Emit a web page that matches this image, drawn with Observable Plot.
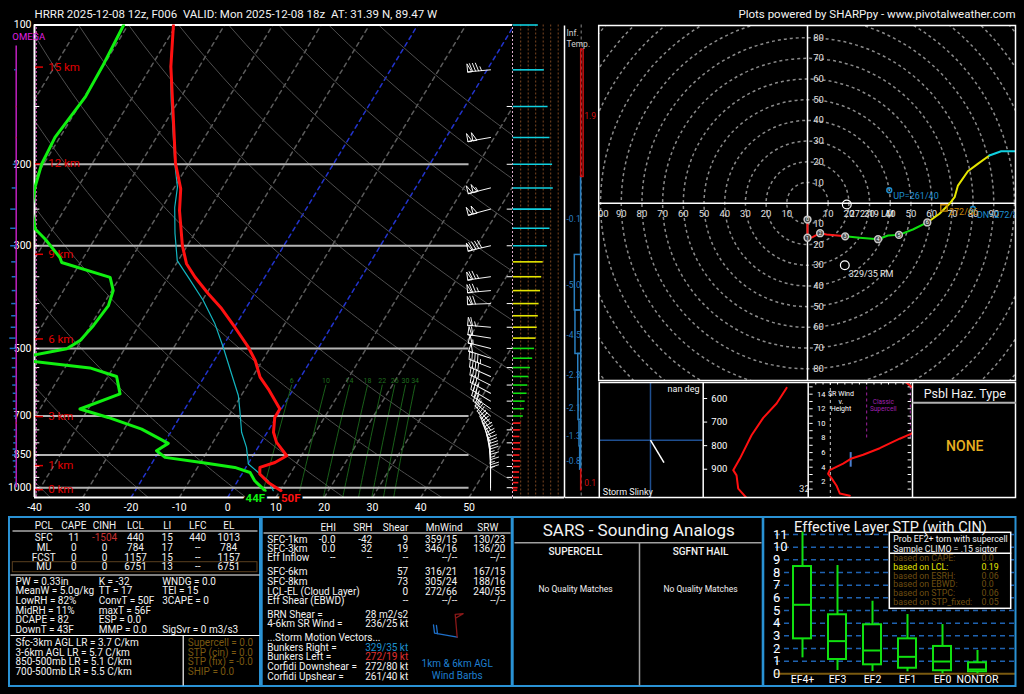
<!DOCTYPE html>
<html><head><meta charset="utf-8">
<script src="https://cdn.jsdelivr.net/npm/d3@7"></script>
<script src="https://cdn.jsdelivr.net/npm/@observablehq/plot@0.6"></script>
<style>
html,body{margin:0;padding:0;background:#000;}
#root{position:relative;width:1024px;height:694px;overflow:hidden;background:#000;}
.layer{position:absolute;overflow:hidden;}
.layer svg{display:block;max-width:none;}
</style></head><body><div id="root"></div>
<script>
// ================= DATA =================
const titleLeft = "HRRR 2025-12-08 12z, F006  VALID: Mon 2025-12-08 18z  AT: 31.39 N, 89.47 W";
const titleRight = "Plots powered by SHARPpy - www.pivotalweather.com";

// Temperature profile (hPa, °C)
const tempP = [1015,974,934,904,882,853,798,759,705,676,612,577,531,497,450,410,381,351,328,300,252,226,199,123,100];
const tempC = [10.2,6.5,3.7,2.9,5.4,7.0,3.2,1.3,-0.3,-0.3,-5.2,-8.4,-11.5,-14.6,-19.9,-25.0,-29.6,-34.4,-37.9,-41.0,-46.0,-48.5,-52.8,-65.9,-70.6];
// Dewpoint profile
const dwptP = [1015,966,927,904,882,860,832,802,747,705,676,627,575,551,527,501,481,446,404,375,351,326,318,290,276,250,224,200,175,143,123,100];
const dwptC = [6.9,3.5,1.5,-2.3,-9.8,-18.0,-20.6,-19.1,-26.4,-34.8,-41.7,-35.3,-38.2,-44.8,-61.8,-52.0,-50.3,-49.4,-48.8,-49.7,-52.0,-63.9,-64.9,-70.3,-73.6,-76.8,-78.9,-80.4,-81.0,-79.8,-80.1,-80.9];
// Wet-bulb profile
const wetbP = [1015,966,927,889,818,759,681,632,568,497,443,394,351,323,282,248,224,200,180,146,123,100];
const wetbC = [8.6,6.3,3.2,0.1,-2.4,-5.3,-8.4,-10.6,-14.7,-19.8,-24.4,-29.8,-35.8,-40.2,-44.1,-47.4,-49.4,-52.8,-55.7,-61.5,-66.0,-70.6];
// Winds (hPa, deg, kt)
const windP   = [1013,1000,975,950,925,900,875,850,825,800,775,750,725,700,675,650,625,600,575,550,525,500,475,450,425,400,375,350,325,300,275,250,225,200,175,150,125,100];
const windDir = [360,360,360,360,359,358,355,350,345,338,332,325,318,311,305,301,298,296,294,291,288,284,279,275,271,268,265,262,259,257,256,255,256,258,260,262,265,268];
const windSpd = [12,13,15,17,17,19,20,18,20,20,18,19,21,27,30,32,37,39,42,46,52,57,61,64,67,69,73,76,80,91,98,102,107,105,98,93,83,67];
const barbLevels = [125,175,225,250,300,350,375,400,450,475,500,525,550,575,600,625,650,675,700,725,750,775,800,825,850,875,900,925,950,975,1000,1013];
// Omega (scaled)
const omegaP = [125,150,175,200,225,250,275,300,325,350,375,400,425,450,475,500,525,550,575,600,625,650,675,700,725,750,775,800,825,850,875,900,925,950,975];
const omegaV = [-1.5,0.8,0.8,-3,-4,-5.5,-5.5,-5.5,-4.5,-4,-4,-4.5,-4.5,-5,-6.5,-6,-4,-4,-3.5,-3.5,-3,-3,-2.5,-2,1,-2,-2,-2.5,-3,-3.5,-3,-2,-2.5,-1.5,-1];
// Height markers
const kmVals = [0,1,3,6,9,12,15];
const kmP = [1010,896,702,477,313,199.5,123.3];
const presLabels = [100,200,300,500,700,850,1000];
const tempTicks = [-40,-30,-20,-10,0,10,20,30,40,50];
const mixW = [6,10,14,18,22,26,30,34];
// Inferred temperature advection (C/hr) per layer
const advBot = [1013,914,814,714,614,514,414,314,213];
const advTop = [914,814,714,614,514,414,314,213,113];
const advVal = [0.1,-0.8,-1.3,-2.1,-2.3,-4.5,-5.0,-0.1,1.9];
// Hodograph trace (kt), band 0:0-3km 1:3-6 2:6-9 3:9-12
const hodoU = [0,0,2.4,6.1,9.2,18.2, 18.2,25.2,34.1,38.9,44.2,50.9,57.9, 57.9,63.8,68.6,71.1,72.7,77.5,82.3,87.9, 87.9,93.6,100.8,107.2];
const hodoV = [-7.9,-16.7,-16.4,-14.5,-15.1,-16.0, -16.0,-16.7,-17.4,-15.6,-15.3,-12.7,-9.3, -9.3,-5.1,-0.3,2.9,8.5,15.4,19.0,23.0, 23.0,25.1,25.1,25.1];
const hodoBand = [0,0,0,0,0,0, 1,1,1,1,1,1,1, 2,2,2,2,2,2,2,2, 3,3,3,3];
const hodoKmU = [0,0,6.1,18.2,34.1,44.2,57.9];
const hodoKmV = [-7.9,-16.7,-14.5,-16.0,-17.4,-15.3,-9.3];
const hodoKmLbl = ["0","1","2","3","4","5","6"];
// Storm motions (deg, kt)
const bunkersRight = [329,35];
const bunkersLeft = [272,19];
const corfidiDown = [272,80];
const corfidiUp = [261,40];
const meanWindCloud = [272,66];
// Theta-e profile (hPa, K)
const thetaeP = [555,621,682,756,855,904,926,982,1022];
const thetaeK = [312.6,309.0,304.2,300.0,295.8,293.4,294.6,295.2,298.2];
// SR wind vs height (km, kt)
const srwKm = [0.1,0.4,1.5,2.5,3.1,3.6,4.5,5.2,5.7,6.6,7.9,8.6,10,12,14.8,15.8];
const srwKt = [28.4,21.5,19.2,15.8,13.5,14.6,23.8,29.6,37.6,49.0,62.7,70.8,80,85,72,66];
const srw46 = 29;
// STP box plot
const stpCats = ["EF4+","EF3","EF2","EF1","EF0","NONTOR"];
const stpLo  = [1.26,0.26,0.18,0.16,0.0,0.0];
const stpQ1  = [2.76,1.13,0.71,0.44,0.24,0.16];
const stpMed = [5.45,2.58,1.84,1.34,0.97,0.34];
const stpQ3  = [8.47,4.66,3.87,2.76,2.16,0.87];
const stpHi  = [11.2,8.55,5.73,4.68,3.89,1.84];
const stpProbLbl = ["based on CAPE:","based on LCL:","based on ESRH:","based on EBWD:","based on STPC:","based on STP_fixed:"];
const stpProbVal = ["0.0","0.19","0.06","0.0","0.06","0.05"];
// Parcel table
const pclHead = ["PCL","CAPE","CINH","LCL","LI","LFC","EL"];
const pclName = ["SFC","ML","FCST","MU"];
const pclCape = [11,0,0,0];
const pclCinh = [-1504,0,0,0];
const pclLcl  = [440,784,1157,6751];
const pclLi   = [15,17,15,13];
const pclLfc  = ["440","--","--","--"];
const pclEl   = [1013,784,1157,6751];
const idxCol1 = ["PW = 0.33in","MeanW = 5.0g/kg","LowRH = 82%","MidRH = 11%","DCAPE = 82","DownT = 43F"];
const idxCol2 = ["K = -32","TT = 17","ConvT = 50F","maxT = 56F","ESP = 0.0","MMP = 0.0"];
const idxCol3 = ["WNDG = 0.0","TEI = 15","3CAPE = 0","","","SigSvr = 0 m3/s3"];
const lapseTxt = ["Sfc-3km AGL LR = 3.7 C/km","3-6km AGL LR = 5.7 C/km","850-500mb LR = 5.1 C/km","700-500mb LR = 5.5 C/km"];
const svrTxt = ["Supercell = 0.0","STP (cin) = 0.0","STP (fix) = -0.0","SHIP = 0.0"];
// Kinematic table
const kinHead = ["EHI","SRH","Shear","MnWind","SRW"];
const kinLabel = ["SFC-1km","SFC-3km","Eff Inflow","SFC-6km","SFC-8km","LCL-EL (Cloud Layer)","Eff Shear (EBWD)"];
const kinEhi = ["-0.0","0.0","--","","","",""];
const kinSrh = ["-42","32","--","","","",""];
const kinShear = ["9","19","--","57","73","0","--"];
const kinMn = ["359/15","346/16","--/--","316/21","305/24","272/66","--/--"];
const kinSrw = ["130/23","136/20","--/--","167/15","188/16","240/55","--/--"];
const brnShear = "28 m2/s2";
const srWind46 = "236/25 kt";
const miniBarbDir = [280,355];
const miniBarbSpd = [20,50];

// ================= HELPERS =================
const root = document.getElementById("root");
function place(svg, left, top, w, h) {
  const d = document.createElement("div");
  d.className = "layer";
  Object.assign(d.style, {left: left + "px", top: top + "px", width: w + "px", height: h + "px"});
  d.appendChild(svg); root.appendChild(d);
}
const FONT = "Roboto, 'Liberation Sans', sans-serif";
const baseStyle = {background: "transparent", color: "white", fontFamily: FONT, overflow: "visible"};
const SKEW = 25.25;
const skx = (t, p) => t + SKEW * Math.log(1050 / p);
const toRows = (P, V) => P.map((p, i) => ({p, t: V[i]}));
const uvOf = ([dir, spd]) => ({u: -spd * Math.sin(dir * Math.PI / 180), v: -spd * Math.cos(dir * Math.PI / 180), dir, spd});
const barb = {
  draw(ctx, l) {
    const L = 23, W = 8;
    ctx.moveTo(0, 0); ctx.lineTo(0, -L);
    let s = Math.round(l / 5) * 5, y = -L;
    while (s >= 50) { ctx.moveTo(0, y); ctx.lineTo(W, y); ctx.lineTo(0, y + 4); ctx.closePath(); y += 5; s -= 50; }
    while (s >= 10) { ctx.moveTo(0, y); ctx.lineTo(W, y - 2.5); y += 3; s -= 10; }
    if (s >= 5) { if (y === -L) y += 3; ctx.moveTo(0, y); ctx.lineTo(W / 2, y - 1.25); }
  }
};
function textMarks(rows) {
  const groups = d3.groups(rows, d => [d.fill, d.fs, d.a, d.fw].join("|"));
  return groups.map(([k, g]) => {
    const [fill, fs, a, fw] = k.split("|");
    return Plot.text(g, {x: "x", y: "y", text: "t", fill, fontSize: +fs, textAnchor: a, fontWeight: fw});
  });
}

// ================= SKEW-T =================
const tRows = toRows(tempP, tempC), dRows = toRows(dwptP, dwptC), wRows = toRows(wetbP, wetbC);
const isoRows = d3.range(-160, 60, 10).flatMap(t => [{t, p: 1050}, {t, p: 100}]);
const pGrid = d3.range(1050, 95, -10);
const adiaRows = d3.range(-40, 220, 20).flatMap(th => pGrid.map(p => ({th, p, t: (th + 273.15) * Math.pow(p / 1000, 0.2857) - 273.15})));
const dewFromW = (w, p) => { const e = w * p / (622 + w); const l = Math.log(e / 6.112); return 243.5 * l / (17.67 - l); };
const mixRows = mixW.flatMap(w => d3.range(1050, 595, -25).map(p => ({w, p, t: dewFromW(w, p)})));
const barbRows = barbLevels.map(p => { const i = windP.indexOf(p); return {p, dir: windDir[i], spd: windSpd[i]}; });
const kmRows = kmVals.map((k, i) => ({k, p: kmP[i]}));
const omRows = omegaP.map((p, i) => ({p, v: omegaV[i]}));
const OMEGA_X = -43.79, PXC = 4.828, BARB_X = 54.45;
const sfcT = tempC[0], sfcTd = dwptC[0], sfcP = tempP[0];
const cToF = c => Math.round(c * 9 / 5 + 32);

const skew = Plot.plot({
  width: 520, height: 516, marginLeft: 34, marginRight: 8, marginTop: 24.5, marginBottom: 19,
  x: {domain: [-40, 59], axis: null},
  y: {type: "log", domain: [1050, 100], axis: null},
  length: {type: "identity"},
  style: baseStyle,
  marks: [
    Plot.line(isoRows.filter(d => d.t !== 0 && d.t !== -20), {x: d => skx(d.t, d.p), y: "p", z: "t", stroke: "#5c5c5c", strokeDasharray: "4,4", clip: true}),
    Plot.line(isoRows.filter(d => d.t === 0 || d.t === -20), {x: d => skx(d.t, d.p), y: "p", z: "t", stroke: "#2233cc", strokeDasharray: "4,4", clip: true}),
    Plot.line(adiaRows, {x: d => skx(d.t, d.p), y: "p", z: "th", stroke: "#4e4e4e", strokeWidth: 1, clip: true}),
    Plot.line(mixRows, {x: d => skx(d.t, d.p), y: "p", z: "w", stroke: "#1c6a1c", strokeWidth: 0.9, clip: true}),
    Plot.text(mixW, {x: w => skx(dewFromW(w, 600), 600), y: 588, text: w => String(w), fill: "#1f6e1f", fontSize: 7}),
    Plot.ruleY([1000, 850, 700, 500, 300, 200], {x1: -40, x2: 50, stroke: "#b4b4b4", strokeWidth: 2}),
    Plot.ruleY(d3.range(150, 1050, 50), {x1: -40, x2: -38.9, stroke: "white"}),
    Plot.ruleY(d3.range(150, 1050, 50), {x1: 57.9, x2: 59, stroke: "white"}),
    Plot.ruleX([-40], {y1: 1050, y2: 100, stroke: "white", strokeWidth: 2}),
    Plot.ruleX([-39.65], {y1: 1050, y2: 100, stroke: "#ff66dd", strokeDasharray: "2,2"}),
    Plot.ruleX([59], {y1: 1050, y2: 100, stroke: "#e0b0d0", strokeDasharray: "2,2"}),
    Plot.ruleY([100, 1050], {x1: -40, x2: 59, stroke: "white", strokeWidth: 2}),
    Plot.text(presLabels, {x: -40, y: d => d, dx: -3, text: d => String(d), textAnchor: "end", fill: "white", fontSize: 10.5}),
    Plot.ruleX([OMEGA_X], {y1: 1000, y2: 111, stroke: "#c020c0", strokeWidth: 1.5}),
    Plot.ruleY(omRows.filter(d => d.v < 0), {y: "p", x1: OMEGA_X, x2: d => OMEGA_X + d.v / PXC, stroke: "#1f6fc8", strokeWidth: 1.5}),
    Plot.ruleY(omRows.filter(d => d.v >= 0), {y: "p", x1: OMEGA_X, x2: d => OMEGA_X + d.v / PXC, stroke: "#d02020", strokeWidth: 1.5}),
    Plot.text(["OMEGA"], {x: -41.18, y: 106, text: d => d, fill: "#e020e0", fontSize: 9.5}),
    Plot.ruleY(kmRows, {y: "p", x1: -39.79, x2: -38.14, stroke: "#e00000", strokeWidth: 1.5}),
    Plot.text(kmRows, {x: -37.16, y: "p", text: d => `${d.k} km`, textAnchor: "start", fill: "#e00000", fontSize: 11.5}),
    Plot.line(wRows, {x: d => skx(d.t, d.p), y: "p", stroke: "#13b5c0", strokeWidth: 1.2, clip: true}),
    Plot.line(tRows, {x: d => skx(d.t, d.p), y: "p", stroke: "#ff1010", strokeWidth: 3, clip: true}),
    Plot.line(dRows, {x: d => skx(d.t, d.p), y: "p", stroke: "#10f010", strokeWidth: 3, clip: true}),
    Plot.vector(barbRows, {x: BARB_X, y: "p", length: "spd", rotate: "dir", anchor: "start", shape: barb, stroke: "white", strokeWidth: 0.9}),
    Plot.text(tempTicks, {x: d => d, y: 1050, dy: 10, text: d => String(d), fill: "white", fontSize: 10.5}),
    Plot.text([sfcTd], {x: d => skx(d, sfcP), y: 1050, dy: 1, text: d => cToF(d) + "F", textAnchor: "end", fill: "#10f010", fontSize: 11.5, fontWeight: "bold", stroke: "black", strokeWidth: 5, paintOrder: "stroke"}),
    Plot.text([sfcT], {x: d => skx(d, sfcP), y: 1050, dy: 1, text: d => cToF(d) + "F", textAnchor: "start", fill: "#ff1010", fontSize: 11.5, fontWeight: "bold", stroke: "black", strokeWidth: 5, paintOrder: "stroke"})
  ]
});
place(skew, 0, 0, 520, 516);

// ================= WIND SPEED BARS =================
const bandOf = p => p >= kmP[2] ? 0 : p >= kmP[3] ? 1 : p >= kmP[4] ? 2 : 3;
const bandColors = ["#ff1a1a", "#10e010", "#e6e600", "#10d0e0"];
const wsRows = windP.map((p, i) => ({p, s: windSpd[i], b: bandOf(p)}));
const bars = Plot.plot({
  width: 52, height: 510, marginLeft: 0.7, marginRight: 0, marginTop: 24.5, marginBottom: 13,
  x: {domain: [0, 136.8], axis: null},
  y: {type: "log", domain: [1050, 100], axis: null},
  style: baseStyle,
  marks: [
    Plot.ruleX([20, 40, 60, 80, 100, 120], {stroke: "#7a4620", strokeDasharray: "2,2"}),
    ...bandColors.map((c, b) => Plot.ruleY(wsRows.filter(d => d.b === b), {y: "p", x1: 0, x2: "s", stroke: c, strokeWidth: 1.6})),
    Plot.ruleY([1050], {stroke: "white", strokeWidth: 2})
  ]
});
place(bars, 512, 0, 52, 510);

// ================= INFERRED TEMP ADVECTION =================
const advRows = advVal.map((v, i) => ({v, b: advBot[i], t: advTop[i], m: Math.sqrt(advBot[i] * advTop[i])}));
const inf = Plot.plot({
  width: 34, height: 510, margin: 0, marginTop: 24.5, marginBottom: 13,
  x: {domain: [-13.1, 13.6], axis: null},
  y: {type: "log", domain: [1050, 100], axis: null},
  style: baseStyle,
  marks: [
    Plot.ruleX([0], {stroke: "#888", strokeDasharray: "3,3"}),
    Plot.rect(advRows.filter(d => d.v < 0), {x1: 0, x2: "v", y1: "b", y2: "t", fill: "none", stroke: "#2a7fc0", strokeWidth: 1.5}),
    Plot.rect(advRows.filter(d => d.v >= 0), {x1: 0, x2: "v", y1: "b", y2: "t", fill: "none", stroke: "#d01010", strokeWidth: 1.5}),
    Plot.text(advRows.filter(d => d.v < 0), {x: 0, y: "m", dx: -0.5, dy: 3, text: d => d.v.toFixed(1), textAnchor: "end", fill: "#2a7fc0", fontSize: 8.5}),
    Plot.text(advRows.filter(d => d.v >= 0), {x: 0, y: "m", dx: 3, dy: 3, text: d => d.v.toFixed(1), textAnchor: "start", fill: "#d01010", fontSize: 8.5})
  ]
});
place(inf, 564, 0, 34, 510);

// ================= HODOGRAPH =================
const PXKT = 418 / 202;
const hodoRows = hodoU.map((u, i) => ({u, v: hodoV[i], b: hodoBand[i]}));
const hodoCol = ["#ff1a1a", "#10e010", "#e6e600", "#10d0e0"];
const ringX = d3.range(-100, 100, 10).filter(d => d !== 0);
const ringY = d3.range(-80, 90, 10).filter(d => d !== 0);
const kmMk = hodoKmU.map((u, i) => ({u, v: hodoKmV[i], l: hodoKmLbl[i]}));
const rm = uvOf(bunkersRight), lm = uvOf(bunkersLeft), dn = uvOf(corfidiDown), up = uvOf(corfidiUp), mw = uvOf(meanWindCloud);
const fmt = m => `${m.dir}/${m.spd}`;
const hodo = Plot.plot({
  width: 418, height: 356, margin: 0,
  x: {domain: [-101, 101], axis: null},
  y: {domain: [-86.1, 85.8], axis: null},
  r: {type: "identity"},
  style: baseStyle,
  marks: [
    Plot.dot(d3.range(10, 140, 10), {x: 0, y: 0, r: d => d * PXKT, stroke: "#8a8a8a", strokeDasharray: "3,3", fill: "none"}),
    Plot.ruleX([0], {stroke: "white", strokeWidth: 1.5}),
    Plot.ruleY([0], {stroke: "white", strokeWidth: 1.5}),
    Plot.text(ringX, {x: d => d, y: 0, dy: 10.6, text: d => String(Math.abs(d)), fill: "#e0e0e0", fontSize: 9.5}),
    Plot.text(ringY, {x: 0, y: d => d, dx: 11, text: d => String(Math.abs(d)), fill: "#e0e0e0", fontSize: 9.5}),
    ...hodoCol.map((c, b) => Plot.line(hodoRows.filter(d => d.b === b), {x: "u", y: "v", stroke: c, strokeWidth: 2, clip: true})),
    Plot.dot(kmMk, {x: "u", y: "v", r: 3.4, fill: "#444", stroke: "#c8c8c8"}),
    Plot.text(kmMk, {x: "u", y: "v", text: "l", fill: "white", fontSize: 5.5}),
    Plot.dot([rm, lm], {x: "u", y: "v", r: 4.4, stroke: "white", fill: "none", strokeWidth: 1.2}),
    Plot.text([rm], {x: "u", y: "v", dx: 4, dy: 9, text: d => fmt(d) + " RM", textAnchor: "start", fill: "#e8e8e8", fontSize: 9}),
    Plot.text([lm], {x: "u", y: "v", dx: 3, dy: 10, text: d => fmt(d) + " LM", textAnchor: "start", fill: "#e8e8e8", fontSize: 9}),
    Plot.dot([up, dn], {x: "u", y: "v", r: 2.4, stroke: "#1e8fd0", fill: "none"}),
    Plot.text([up], {x: "u", y: "v", dx: 4, dy: 6, text: d => "UP=" + fmt(d), textAnchor: "start", fill: "#1e8fd0", fontSize: 9}),
    Plot.text([dn], {x: "u", y: "v", dx: 4, dy: 6, text: d => "DN=" + fmt(d), textAnchor: "start", fill: "#1e8fd0", fontSize: 9}),
    Plot.dot([mw], {x: "u", y: "v", r: 3.6, symbol: "square", stroke: "#c8860a", fill: "none", strokeWidth: 1.3}),
    Plot.text([mw], {x: "u", y: "v", dx: 5, dy: 4, text: d => fmt(d), textAnchor: "start", fill: "#c8860a", fontSize: 9})
  ]
});
place(hodo, 598, 25, 418, 356);

// ================= STORM SLINKY =================
const slinky = Plot.plot({
  width: 103.4, height: 115, margin: 0,
  x: {domain: [-68, 69.9], axis: null},
  y: {domain: [-76.4, 76.9], axis: null},
  style: baseStyle,
  marks: [
    Plot.ruleX([0], {stroke: "#1f4f90", strokeWidth: 1.5}),
    Plot.ruleY([0], {stroke: "#1f4f90", strokeWidth: 1.5}),
    Plot.link([rm], {x1: 0, y1: 0, x2: "u", y2: "v", stroke: "white", strokeWidth: 1.5})
  ]
});
place(slinky, 599.3, 382, 103.4, 115);

// ================= THETA-E =================
const thRows = thetaeP.map((p, i) => ({p, k: thetaeK[i]}));
const thetae = Plot.plot({
  width: 105, height: 115, margin: 0,
  x: {domain: [282.7, 320.5], axis: null},
  y: {domain: [1020, 532], axis: null},
  style: baseStyle,
  marks: [
    Plot.ruleY([600, 700, 800, 900], {x1: 282.7, x2: 284.2, stroke: "white"}),
    Plot.text([600, 700, 800, 900], {x: 288.4, y: d => d, text: d => String(d), fill: "white", fontSize: 9.5}),
    Plot.text([320], {x: d => d, y: 982, text: d => String(d), fill: "#ddd", fontSize: 9.5}),
    Plot.line(thRows, {x: "k", y: "p", stroke: "#ff1010", strokeWidth: 2, clip: true})
  ]
});
place(thetae, 703, 382, 105, 115);

// ================= SR WIND vs HEIGHT =================
const srRows = srwKm.map((k, i) => ({k, s: srwKt[i]}));
const srw = Plot.plot({
  width: 104, height: 115, margin: 0,
  x: {domain: [0, 71.5], axis: null},
  y: {domain: [-0.15, 15.6], axis: null},
  style: baseStyle,
  marks: [
    Plot.ruleX([15], {stroke: "#cfcfcf", strokeDasharray: "3,3"}),
    Plot.ruleX([40, 70], {y1: 8, y2: 15.6, stroke: "#a020a0", strokeDasharray: "3,3"}),
    Plot.ruleY(d3.range(1, 16), {x1: 0.9, x2: 3.2, stroke: "white"}),
    Plot.ruleY(d3.range(1, 16), {x1: 68.5, x2: 70.8, stroke: "white"}),
    Plot.ruleX(d3.range(5, 71, 5), {y1: 15.25, y2: 15.6, stroke: "white"}),
    Plot.text(d3.range(2, 16, 2), {x: 11.7, y: d => d, text: d => String(d), textAnchor: "end", fill: "white", fontSize: 7.5}),
    Plot.text(["SR Wind", "v.", "Height"], {x: 22.3, y: (d, i) => [14.1, 13.0, 11.95][i], text: d => d, fill: "white", fontSize: 7}),
    Plot.text(["Classic", "Supercell"], {x: 51.4, y: (d, i) => [13.0, 11.95][i], text: d => d, fill: "#a020b0", fontSize: 6.5}),
    Plot.ruleX([srw46], {y1: 4, y2: 6, stroke: "#4a7fd0", strokeWidth: 2}),
    Plot.line(srRows, {x: "s", y: "k", stroke: "#ff1010", strokeWidth: 2, clip: true})
  ]
});
place(srw, 808, 382, 104, 115);

// ================= STP BOX PLOT =================
const stpRows = stpCats.map((c, i) => ({c, lo: stpLo[i], q1: stpQ1[i], med: stpMed[i], q3: stpQ3[i], hi: stpHi[i]}));
const GRN = "#10e010";
const stp = Plot.plot({
  width: 252, height: 169, marginLeft: 12, marginRight: 0, marginTop: 17, marginBottom: 12.7,
  x: {type: "band", domain: stpCats, range: [28, 225], paddingInner: 0.5, paddingOuter: 0, axis: null},
  y: {domain: [0, 11], axis: null},
  style: baseStyle,
  marks: [
    Plot.ruleY(d3.range(1, 12), {stroke: "#1f62b0", strokeDasharray: "5,4", strokeWidth: 1.5}),
    Plot.ruleY([0], {stroke: "#7a5a10", strokeWidth: 2}),
    Plot.ruleX(stpRows, {x: "c", y1: "lo", y2: "hi", stroke: GRN, strokeWidth: 2}),
    Plot.barY(stpRows, {x: "c", y1: "q1", y2: "q3", fill: "black", stroke: GRN, strokeWidth: 2}),
    Plot.tickY(stpRows, {x: "c", y: "med", stroke: GRN, strokeWidth: 2}),
    Plot.text(d3.range(0, 12), {y: d => d, frameAnchor: "left", dx: -2.6, text: d => String(d), fill: "white", fontSize: 13}),
    Plot.text(stpCats, {x: d => d, y: 0, dy: 6, text: d => d, fill: "white", fontSize: 10.5})
  ]
});
place(stp, 763.3, 517, 252, 169);

// ================= OVERLAY: TEXT, TABLES, BORDERS =================
const TX = [];
const add = (t, x, y, o = {}) => TX.push({t: String(t), x, y, fill: o.fill || "#f2f2f2", fs: o.fs || 10, a: o.a || "start", fw: o.fw || "normal"});
add(titleLeft, 34, 14, {fs: 11.5});
add(titleRight, 1015, 14, {fs: 11.5, a: "end"});
add("Inf.", 566, 32.7, {fs: 8.5, fill: "#d0d0d0"});
add("Temp.", 566, 43.3, {fs: 8.5, fill: "#d0d0d0"});
add("nan deg", 683, 388.5, {fs: 9, a: "middle"});
add("Storm Slinky", 627.3, 492, {fs: 9, a: "middle"});
add("Psbl Haz. Type", 964.3, 393, {fs: 12.5, a: "middle"});
add("NONE", 964.3, 446.3, {fs: 14, a: "middle", fill: "#e8b020", fw: "500"});
// parcel table
const PCL_X = [43.3, 73.3, 104, 135, 166.7, 197.3, 228.3];
const PCL_Y = [537.7, 547.3, 557, 566.7];
pclHead.forEach((h, i) => add(h, PCL_X[i], 525, {a: "middle"}));
[pclName, pclCape, pclCinh, pclLcl, pclLi, pclLfc, pclEl].forEach((col, ci) =>
  col.forEach((v, ri) => add(v, PCL_X[ci], PCL_Y[ri], {a: "middle", fill: (ci === 2 && v < 0) ? "#c83030" : "#f2f2f2"})));
const IDX_Y = [581, 590.7, 600.3, 610, 619.7, 629];
[idxCol1, idxCol2, idxCol3].forEach((col, ci) => col.forEach((v, ri) => { if (v) add(v, [15, 98.3, 161.7][ci], IDX_Y[ri]); }));
const LR_Y = [642.7, 652, 661.7, 671];
lapseTxt.forEach((v, i) => add(v, 15, LR_Y[i]));
svrTxt.forEach((v, i) => add(v, 187.3, LR_Y[i], {fill: "#7a5810"}));
// kinematic table
const KH_X = [327.7, 362.3, 395, 443.7, 487.3];
kinHead.forEach((h, i) => add(h, KH_X[i], 527.3, {a: "middle"}));
const KIN_Y = [539, 548.3, 557.7, 571.7, 581.3, 591, 600.7];
const KV_X = [335, 371.7, 407.7, 456.7, 505];
kinLabel.forEach((l, i) => {
  add(l, 266.7, KIN_Y[i]);
  [kinEhi, kinSrh, kinShear, kinMn, kinSrw].forEach((col, ci) => { if (col[i]) add(col[i], KV_X[ci], KIN_Y[i], {a: "end"}); });
});
add("BRN Shear =", 266.7, 614.3); add(brnShear, 407.7, 614.3, {a: "end"});
add("4-6km SR Wind =", 266.7, 623.7); add(srWind46, 407.7, 623.7, {a: "end"});
add("...Storm Motion Vectors...", 266.7, 637.7);
add("Bunkers Right =", 266.7, 647.3); add(fmt(rm) + " kt", 407.7, 647.3, {a: "end", fill: "#1e90d0"});
add("Bunkers Left =", 266.7, 656.7); add(fmt(lm) + " kt", 407.7, 656.7, {a: "end", fill: "#e03030"});
add("Corfidi Downshear =", 266.7, 666.3); add(fmt(dn) + " kt", 407.7, 666.3, {a: "end"});
add("Corfidi Upshear =", 266.7, 676); add(fmt(up) + " kt", 407.7, 676, {a: "end"});
add("1km & 6km AGL", 456.7, 663.3, {a: "middle", fill: "#1e7fd0"});
add("Wind Barbs", 456.7, 675, {a: "middle", fill: "#1e7fd0"});
// SARS
add("SARS - Sounding Analogs", 638.3, 530, {a: "middle", fs: 17});
add("SUPERCELL", 575, 551.5, {a: "middle", fs: 10, fw: "500"});
add("SGFNT HAIL", 700, 551.5, {a: "middle", fs: 10, fw: "500"});
add("No Quality Matches", 575, 589, {a: "middle", fs: 8.5});
add("No Quality Matches", 700, 589, {a: "middle", fs: 8.5});
// STP
add("Effective Layer STP (with CIN)", 890, 527.3, {a: "middle", fs: 14.5});
add("Prob EF2+ torn with supercell", 892.7, 539, {fs: 8.8});
add("Sample CLIMO = .15 sigtor", 892.7, 548.3, {fs: 8.8});
const PR_Y = [557.7, 566.7, 575.3, 584, 592.7, 601.3];
stpProbLbl.forEach((l, i) => {
  const c = i === 1 ? "#e6e600" : "#6e4e10";
  add(l, 892.7, PR_Y[i], {fs: 8.8, fill: c});
  add(stpProbVal[i], 981, PR_Y[i], {fs: 8.8, fill: c});
});

const BLUE = "#2a92d4";
const boxes = [
  {x1: 9, y1: 517, x2: 260, y2: 686, s: BLUE, w: 2, f: "none"},
  {x1: 261.7, y1: 517, x2: 511.7, y2: 686, s: BLUE, w: 2, f: "none"},
  {x1: 512.7, y1: 517, x2: 762.7, y2: 686, s: BLUE, w: 2, f: "none"},
  {x1: 763.3, y1: 517, x2: 1015.5, y2: 686, s: BLUE, w: 2, f: "none"},
  {x1: 12.3, y1: 561.7, x2: 257, y2: 571.7, s: "#5a4020", w: 1, f: "none"},
  {x1: 598.7, y1: 25.5, x2: 1015.5, y2: 380.5, s: "white", w: 1.5, f: "none"},
  {x1: 599.3, y1: 382.5, x2: 1015.5, y2: 497.5, s: "white", w: 1.5, f: "none"},
  {x1: 889.3, y1: 532.3, x2: 1010.7, y2: 608.3, s: "white", w: 1.5, f: "black"}
];
const segs = [
  {x1: 12, y1: 530.5, x2: 257, y2: 530.5, s: "white", w: 1},
  {x1: 10, y1: 574.5, x2: 259, y2: 574.5, s: "white", w: 1.2},
  {x1: 10, y1: 635, x2: 259, y2: 635, s: "white", w: 1.2},
  {x1: 182.7, y1: 635, x2: 182.7, y2: 685, s: "white", w: 1.2},
  {x1: 263, y1: 532.5, x2: 510, y2: 532.5, s: "white", w: 1},
  {x1: 514, y1: 542.3, x2: 761, y2: 542.3, s: "#a0a0a0", w: 1.5},
  {x1: 639, y1: 542.3, x2: 639, y2: 685, s: "#a0a0a0", w: 1.5},
  {x1: 702.7, y1: 382.5, x2: 702.7, y2: 497.5, s: "white", w: 1.5},
  {x1: 807.7, y1: 382.5, x2: 807.7, y2: 497.5, s: "white", w: 1.5},
  {x1: 912, y1: 382.5, x2: 912, y2: 497.5, s: "white", w: 1.5},
  {x1: 912, y1: 402.3, x2: 1015.5, y2: 402.3, s: "#b0b0b0", w: 2},
  {x1: 564, y1: 25, x2: 564, y2: 497, s: "white", w: 1.5},
  {x1: 564, y1: 497, x2: 598.7, y2: 497, s: "white", w: 1.5},
  {x1: 889.3, y1: 552.7, x2: 1010.7, y2: 552.7, s: "white", w: 1.5}
];
const mini = miniBarbDir.map((d, i) => ({d, s: miniBarbSpd[i], c: i === 0 ? "#1e6fc8" : "#8a1818"}));
const overlay = Plot.plot({
  width: 1024, height: 694, margin: 0,
  x: {type: "identity", axis: null},
  y: {type: "identity", axis: null},
  length: {type: "identity"},
  style: baseStyle,
  marks: [
    ...d3.groups(boxes, b => b.s + "|" + b.w + "|" + b.f).map(([k, g]) => Plot.rect(g, {x1: "x1", x2: "x2", y1: "y1", y2: "y2", stroke: g[0].s, strokeWidth: g[0].w, fill: g[0].f})),
    ...d3.groups(segs, b => b.s + "|" + b.w).map(([k, g]) => Plot.link(g, {x1: "x1", x2: "x2", y1: "y1", y2: "y2", stroke: g[0].s, strokeWidth: g[0].w})),
    ...mini.map(m => Plot.vector([m], {x: 456.7, y: 636.7, length: "s", rotate: "d", anchor: "start", shape: barb, stroke: m.c, strokeWidth: 1.3})),
    ...textMarks(TX)
  ]
});
place(overlay, 0, 0, 1024, 694);
</script></body></html>
